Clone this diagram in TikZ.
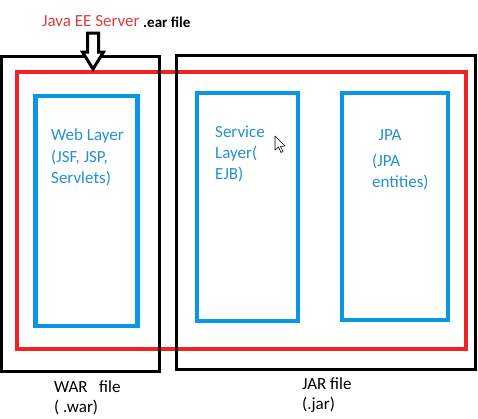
\documentclass[tikz,border=0pt]{standalone}
\usepackage{fontspec}
\setmainfont{Carlito}
\definecolor{boxblue}{RGB}{10,150,230}
\definecolor{txtblue}{RGB}{35,145,215}
\definecolor{boxred}{RGB}{237,35,36}
\definecolor{txtred}{RGB}{222,60,60}
\tikzset{
  blackbox/.style={draw=black,line width=3pt,inner sep=0pt},
  redbox/.style={draw=boxred,line width=4.5pt,inner sep=0pt},
  bluebox/.style={draw=boxblue,line width=4.5pt,inner sep=0pt},
  bluetxt/.style={text=txtblue,font=\fontsize{17}{21}\selectfont,inner sep=0pt,anchor=base west},
  lbl/.style={text=black,font=\fontsize{17}{20}\selectfont,inner sep=0pt,anchor=base west},
}
\begin{document}
\begin{tikzpicture}[x=1pt,y=-1pt]
\useasboundingbox[fill=white] (0,0) rectangle (478,418);
% red ear box
\node[redbox,minimum width=449pt,minimum height=277pt] (ear) at (241.5,210.5) {};
% black war and jar boxes
\node[blackbox,minimum width=158pt,minimum height=315pt] (war) at (80,214) {};
\node[blackbox,minimum width=299pt,minimum height=314pt] (jar) at (326,212) {};
% blue boxes
\node[bluebox,minimum width=102pt,minimum height=230pt] (web) at (86.5,211) {};
\node[bluebox,minimum width=101pt,minimum height=228pt] (svc) at (247.5,207) {};
\node[bluebox,minimum width=106pt,minimum height=227pt] (jpa) at (395,206.5) {};
% texts in boxes
\node[bluetxt] (webt1) at (51,140) {Web Layer};
\node[bluetxt] (webt2) at (51,162) {(JSF, JSP,};
\node[bluetxt] (webt3) at (51,183) {Servlets)};
\node[bluetxt] (svct1) at (215,137) {Service};
\node[bluetxt] (svct2) at (215,158) {Layer(};
\node[bluetxt] (svct3) at (215,179) {EJB)};
\node[bluetxt,anchor=base] (jpat) at (390,140) {JPA};
\node[bluetxt] (jpae1) at (372,166) {(JPA};
\node[bluetxt] (jpae2) at (372,187) {entities)};
% title
\node[text=txtred,font=\fontsize{17}{20}\selectfont,inner sep=0pt,anchor=base west] (server) at (42,26) {Java EE Server};
\node[font=\fontsize{15}{18}\selectfont\bfseries,inner sep=0pt,anchor=base west] (ear label) at (143,27) {.ear file};
% hollow arrow
\draw[line width=3pt,line join=miter,fill=white] (87.5,33) -- (98.5,33) -- (98.5,52) -- (103.5,52) -- (93,69) -- (82.5,52) -- (87.5,52) -- cycle;
\coordinate (arrowtip) at (93,69);
% bottom labels
\node[lbl] (wart1) at (54,392) {WAR\ \ \ file};
\node[lbl] (wart2) at (54,412) {(\ .war)};
\node[lbl] (jart1) at (302,389) {JAR file};
\node[lbl] (jart2) at (302,409) {(.jar)};
% mouse pointer
\draw[black,line width=0.6pt,fill=white,line join=round] (275,136) -- (275,150) -- (278.5,147) -- (281,152.5) -- (283,151.5) -- (280.5,146.5) -- (285,146) -- cycle;
\end{tikzpicture}
\end{document}
